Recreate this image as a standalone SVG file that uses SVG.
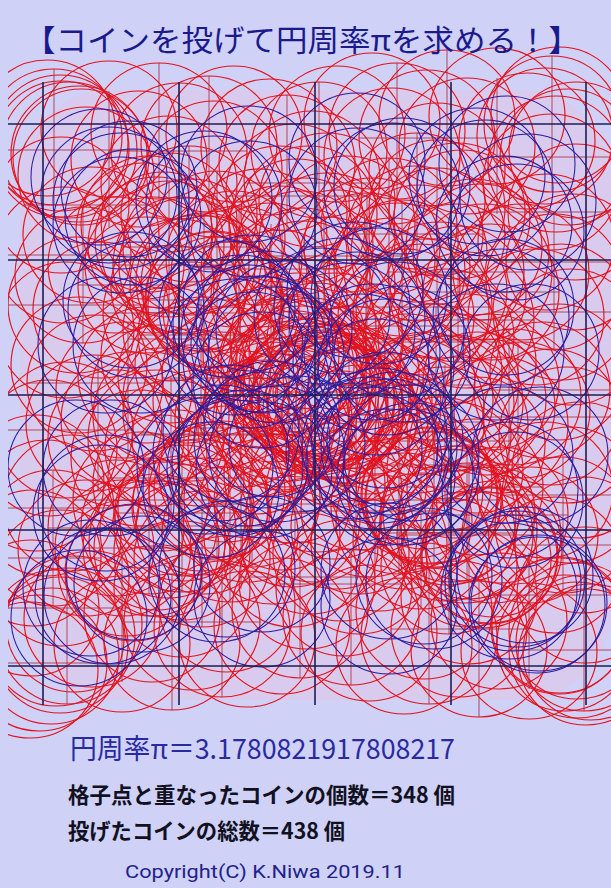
<svg xmlns="http://www.w3.org/2000/svg" xmlns:xlink="http://www.w3.org/1999/xlink" width="611" height="888" viewBox="0 0 611 888">
<style>
.r{fill:none;stroke:#e3121e;stroke-width:1.15}
.b{fill:none;stroke:#2a1c9e;stroke-width:1.05}
.d{stroke:#a8283c;stroke-width:1;opacity:.8}
.g{stroke:#1c1c55;stroke-width:1.6}
.jp{font-family:"Noto Sans CJK JP","Noto Sans",sans-serif}
</style>
<defs>
<clipPath id="clip"><rect x="8" y="0" width="603" height="888"/></clipPath>
<g id="R">
<circle class="r" cx="12" cy="5" r="68"/>
<circle class="r" cx="35" cy="20" r="68"/>
<circle class="r" cx="58" cy="11" r="68"/>
<circle class="r" cx="101" cy="30" r="68"/>
<circle class="r" cx="125" cy="70" r="68"/>
<circle class="r" cx="140" cy="8" r="68"/>
<circle class="r" cx="162" cy="50" r="68"/>
<circle class="r" cx="185" cy="120" r="68"/>
<circle class="r" cx="207" cy="15" r="68"/>
<circle class="r" cx="230" cy="95" r="68"/>
<circle class="r" cx="252" cy="40" r="68"/>
<circle class="r" cx="268" cy="150" r="68"/>
<circle class="r" cx="45" cy="38" r="68"/>
<circle class="r" cx="118" cy="105" r="68"/>
<circle class="r" cx="150" cy="140" r="68"/>
<circle class="r" cx="175" cy="160" r="68"/>
<circle class="r" cx="245" cy="230" r="68"/>
<circle class="r" cx="262" cy="255" r="68"/>
<circle class="r" cx="110" cy="5" r="68"/>
<circle class="r" cx="133" cy="122" r="68"/>
<circle class="r" cx="160" cy="92" r="68"/>
<circle class="r" cx="215" cy="140" r="68"/>
<circle class="r" cx="240" cy="170" r="68"/>
<circle class="r" cx="255" cy="100" r="68"/>
<circle class="r" cx="20" cy="14" r="68"/>
<circle class="r" cx="145" cy="30" r="68"/>
<circle class="r" cx="172" cy="12" r="68"/>
<circle class="r" cx="236" cy="22" r="68"/>
<circle class="r" cx="265" cy="75" r="68"/>
<circle class="r" cx="250" cy="248" r="68"/>
<circle class="r" cx="178" cy="140" r="68"/>
<circle class="r" cx="152" cy="118" r="68"/>
<circle class="r" cx="128" cy="40" r="68"/>
<circle class="r" cx="270" cy="200" r="68"/>
<circle class="r" cx="185" cy="30" r="68"/>
<circle class="r" cx="115" cy="100" r="68"/>
<circle class="r" cx="248" cy="130" r="68"/>
<circle class="r" cx="30" cy="2" r="68"/>
<circle class="r" cx="140" cy="75" r="68"/>
<circle class="r" cx="271" cy="262" r="68"/>
<circle class="r" cx="168" cy="165" r="68"/>
<circle class="r" cx="100" cy="95" r="68"/>
<line class="d" x1="-33" y1="20" x2="103" y2="20"/>
<line class="d" x1="57" y1="70" x2="193" y2="70"/>
<line class="d" x1="117" y1="120" x2="253" y2="120"/>
<line class="d" x1="200" y1="150" x2="336" y2="150"/>
<line class="d" x1="82" y1="140" x2="218" y2="140"/>
<line class="d" x1="194" y1="255" x2="330" y2="255"/>
<line class="d" x1="92" y1="92" x2="228" y2="92"/>
<line class="d" x1="187" y1="100" x2="323" y2="100"/>
<line class="d" x1="168" y1="22" x2="304" y2="22"/>
<line class="d" x1="152" y1="50" x2="152" y2="186"/>
<line class="d" x1="203" y1="-53" x2="203" y2="83"/>
<line class="d" x1="248" y1="62" x2="248" y2="198"/>
<line class="d" x1="32" y1="27" x2="168" y2="27"/>
<line class="d" x1="47" y1="105" x2="183" y2="105"/>
<line class="d" x1="172" y1="200" x2="308" y2="200"/>
<line class="d" x1="130" y1="-30" x2="130" y2="106"/>
<line class="d" x1="60" y1="45" x2="60" y2="181"/>
</g>
<g id="B">
<circle class="b" cx="80" cy="45" r="68"/>
<circle class="b" cx="90" cy="82" r="68"/>
<circle class="b" cx="198" cy="188" r="68"/>
<circle class="b" cx="222" cy="210" r="68"/>
<circle class="b" cx="70" cy="25" r="68"/>
<circle class="b" cx="190" cy="60" r="68"/>
<circle class="b" cx="66" cy="60" r="68"/>
<circle class="b" cx="200" cy="105" r="68"/>
<circle class="b" cx="96" cy="58" r="68"/>
<circle class="b" cx="55" cy="50" r="68"/>
<circle class="b" cx="210" cy="180" r="68"/>
<circle class="b" cx="225" cy="60" r="68"/>
<circle class="b" cx="195" cy="95" r="68"/>
</g>
</defs>
<rect x="0" y="0" width="611" height="888" fill="#cfd1f6"/>
<rect x="20" y="90" width="591" height="610" rx="90" fill="#f2bcd6" opacity="0.3"/>
<g id="coins" clip-path="url(#clip)">
<g id="red-coins">
<use xlink:href="#R" transform="translate(315,395) matrix(1,0,0,1,0,0)"/>
<use xlink:href="#R" transform="translate(329,381) matrix(0,1,1,0,0,0)"/>
<use xlink:href="#R" transform="translate(301,408) matrix(-1,0,0,1,0,0)"/>
<use xlink:href="#R" transform="translate(322,374) matrix(0,1,-1,0,0,0)"/>
<use xlink:href="#R" transform="translate(306,412) matrix(1,0,0,-1,0,0)"/>
<use xlink:href="#R" transform="translate(297,386) matrix(0,-1,1,0,0,0)"/>
<use xlink:href="#R" transform="translate(331,405) matrix(-1,0,0,-1,0,0)"/>
<use xlink:href="#R" transform="translate(309,399) matrix(0,-1,-1,0,0,0)"/>
</g>
<g id="blue-coins">
<use xlink:href="#B" transform="translate(315,395) matrix(1,0,0,1,0,0)"/>
<use xlink:href="#B" transform="translate(329,381) matrix(0,1,1,0,0,0)"/>
<use xlink:href="#B" transform="translate(301,408) matrix(-1,0,0,1,0,0)"/>
<use xlink:href="#B" transform="translate(322,374) matrix(0,1,-1,0,0,0)"/>
<use xlink:href="#B" transform="translate(306,412) matrix(1,0,0,-1,0,0)"/>
<use xlink:href="#B" transform="translate(297,386) matrix(0,-1,1,0,0,0)"/>
<use xlink:href="#B" transform="translate(331,405) matrix(-1,0,0,-1,0,0)"/>
<use xlink:href="#B" transform="translate(309,399) matrix(0,-1,-1,0,0,0)"/>
</g>
</g>
<g id="grid">
<line class="g" x1="8" y1="124" x2="611" y2="124"/>
<line class="g" x1="8" y1="260" x2="611" y2="260"/>
<line class="g" x1="8" y1="395" x2="611" y2="395"/>
<line class="g" x1="8" y1="530" x2="611" y2="530"/>
<line class="g" x1="8" y1="666" x2="611" y2="666"/>
<line class="g" x1="43" y1="82" x2="43" y2="705"/>
<line class="g" x1="179" y1="82" x2="179" y2="705"/>
<line class="g" x1="315" y1="82" x2="315" y2="705"/>
<line class="g" x1="451" y1="82" x2="451" y2="705"/>
<line class="g" x1="586" y1="82" x2="586" y2="705"/>
</g>
<g id="title">
<text class="jp" x="302" y="51" font-size="30" fill="#1a1a8c" text-anchor="middle" textLength="556" lengthAdjust="spacingAndGlyphs">【コインを投げて円周率πを求める！】</text>
</g>
<g id="results">
<text class="jp" x="70" y="759" font-size="28" fill="#2a2aa0" textLength="385" lengthAdjust="spacingAndGlyphs">円周率π＝3.1780821917808217</text>
<text class="jp" x="68" y="803" font-size="22" font-weight="bold" fill="#111122" textLength="387" lengthAdjust="spacingAndGlyphs">格子点と重なったコインの個数＝348 個</text>
<text class="jp" x="68" y="839" font-size="22" font-weight="bold" fill="#111122" textLength="277" lengthAdjust="spacingAndGlyphs">投げたコインの総数＝438 個</text>
<text x="265" y="878" font-family="Roboto,'Liberation Sans',sans-serif" font-size="18" fill="#22228a" text-anchor="middle" textLength="280" lengthAdjust="spacingAndGlyphs">Copyright(C) K.Niwa 2019.11</text>
</g>
</svg>
